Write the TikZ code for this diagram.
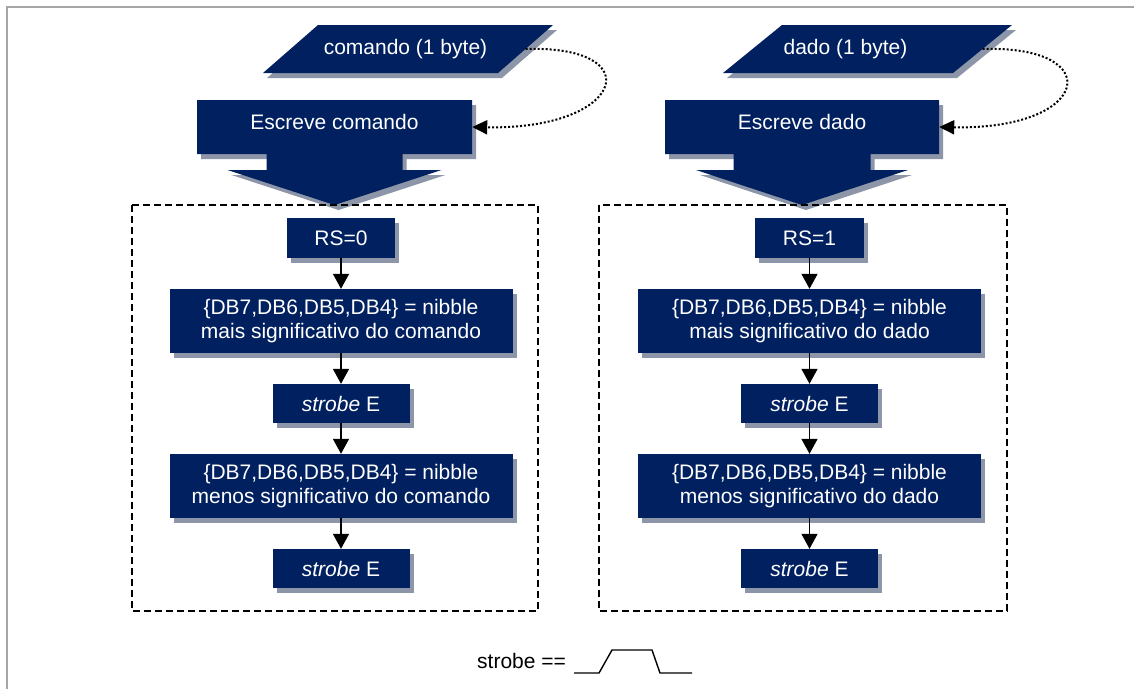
\documentclass[tikz,border=0pt]{standalone}
\usepackage{fontspec}
\setmainfont{Liberation Sans}
\usetikzlibrary{arrows.meta,shadows}
\definecolor{navy}{HTML}{002060}
\definecolor{shadowcol}{HTML}{8C96A8}
\definecolor{framecol}{HTML}{A6A6A6}
\pgfdeclarelayer{bg}
\pgfsetlayers{bg,main}
\tikzset{
  txt/.style={font=\fontsize{21}{24}\selectfont},
  blk/.style={txt, rectangle, fill=navy, text=white, inner sep=0pt, align=center,
    drop shadow={shadow xshift=4pt, shadow yshift=-5pt, fill=shadowcol, opacity=1}},
  oneline/.style={text height=15pt, text depth=0pt},
  ghost/.style={txt, rectangle, text=white, inner sep=0pt},
  flow/.style={line width=1.6pt, -{Triangle[width=16pt,length=15pt]}},
  dotline/.style={line width=2pt, dash pattern=on 2pt off 2pt,
    -{Triangle[width=14pt,length=15pt]}},
  dashbox/.style={line width=1.5pt, dash pattern=on 7pt off 4pt},
}
\begin{document}
\begin{tikzpicture}[x=1pt,y=-1pt]
\useasboundingbox (0,0) rectangle (1134,689);

% ---------------- command column ----------------
\node[ghost, minimum width=240pt, minimum height=48pt, text height=15pt, text depth=5pt]
  (cmdin) at (405.5,49) {comando (1 byte)};
\node[ghost, minimum width=275pt, minimum height=54pt, text height=15pt, text depth=11pt]
  (wcmd) at (334.5,127) {Escreve comando};
\node[blk, oneline, minimum width=108pt, minimum height=40pt] (rs0) at (341,238) {RS=0};
\node[blk, minimum width=343pt, minimum height=64pt] (msb0) at (341,321)
  {\{DB7,DB6,DB5,DB4\} = nibble\\mais significativo do comando};
\node[blk, oneline, minimum width=137pt, minimum height=39pt] (stb0) at (341,403.5) {\textit{strobe} E};
\node[blk, minimum width=343pt, minimum height=64pt] (lsb0) at (341,486)
  {\{DB7,DB6,DB5,DB4\} = nibble\\menos significativo do comando};
\node[blk, oneline, minimum width=137pt, minimum height=39pt] (stb0b) at (341,568.5) {\textit{strobe} E};

% ---------------- data column ----------------
\node[ghost, minimum width=274pt, minimum height=48pt, text height=15pt, text depth=5pt]
  (datin) at (845.5,49) {dado (1 byte)};
\node[ghost, minimum width=274pt, minimum height=54pt, text height=15pt, text depth=11pt]
  (wdat) at (802,127) {Escreve dado};
\node[blk, oneline, minimum width=109pt, minimum height=40pt] (rs1) at (809.5,238) {RS=1};
\node[blk, minimum width=343pt, minimum height=64pt] (msb1) at (809.5,321)
  {\{DB7,DB6,DB5,DB4\} = nibble\\mais significativo do dado};
\node[blk, oneline, minimum width=137pt, minimum height=39pt] (stb1) at (809.5,403.5) {\textit{strobe} E};
\node[blk, minimum width=343pt, minimum height=64pt] (lsb1) at (809.5,486)
  {\{DB7,DB6,DB5,DB4\} = nibble\\menos significativo do dado};
\node[blk, oneline, minimum width=137pt, minimum height=39pt] (stb1b) at (809.5,568.5) {\textit{strobe} E};

% page, frame, input parallelograms and block arrows with their shadows
\begin{pgfonlayer}{bg}
\fill[white] (0,0) rectangle (1134,689);
\draw[framecol, line width=2pt] (1134,7) -- (7,7) -- (7,689);
\foreach \dx/\dy/\c in {4/5/shadowcol, 0/0/navy} {
  \begin{scope}[shift={(\dx,\dy)}]
    \fill[\c] (263,73) -- (318,25) -- (553,25) -- (498,73) -- cycle;
    \fill[\c] (723,73) -- (782,25) -- (1012,25) -- (953,73) -- cycle;
    \fill[\c] (197,100) -- (472,100) -- (472,154) -- (402.5,154) -- (402.5,170)
      -- (441.5,170) -- (334.5,205) -- (227.5,170) -- (266.5,170) -- (266.5,154)
      -- (197,154) -- cycle;
    \fill[\c] (665,100) -- (939,100) -- (939,154) -- (870.5,154) -- (870.5,170)
      -- (908,170) -- (802,205) -- (696,170) -- (733.5,170) -- (733.5,154)
      -- (665,154) -- cycle;
  \end{scope}
}
\end{pgfonlayer}

% dashed groups
\draw[dashbox] (132,205) rectangle (538,611);
\draw[dashbox] (599,205) rectangle (1007,611);

% flow arrows
\draw[flow] (rs0.south) -- (msb0.north);
\draw[flow] (msb0.south) -- (stb0.north);
\draw[flow] (stb0.south) -- (lsb0.north);
\draw[flow] (lsb0.south) -- (stb0b.north);
\draw[flow] (rs1.south) -- (msb1.north);
\draw[flow] (msb1.south) -- (stb1.north);
\draw[flow] (stb1.south) -- (lsb1.north);
\draw[flow] (lsb1.south) -- (stb1b.north);

% dotted links from the input to the write block
\draw[dotline] (cmdin.east) .. controls +(125,-4) and +(152,3) .. (wcmd.east);
\draw[dotline] (datin.east) .. controls +(125,-4) and +(152,3) .. (wdat.east);

% strobe legend
\node[txt, anchor=base west, inner sep=0pt] (slbl) at (477,668) {strobe ==};
\draw[line width=1.4pt] (574,673) -- (599,673) -- (612,650) -- (652,650) -- (660,673) -- (692,673);
\end{tikzpicture}
\end{document}
